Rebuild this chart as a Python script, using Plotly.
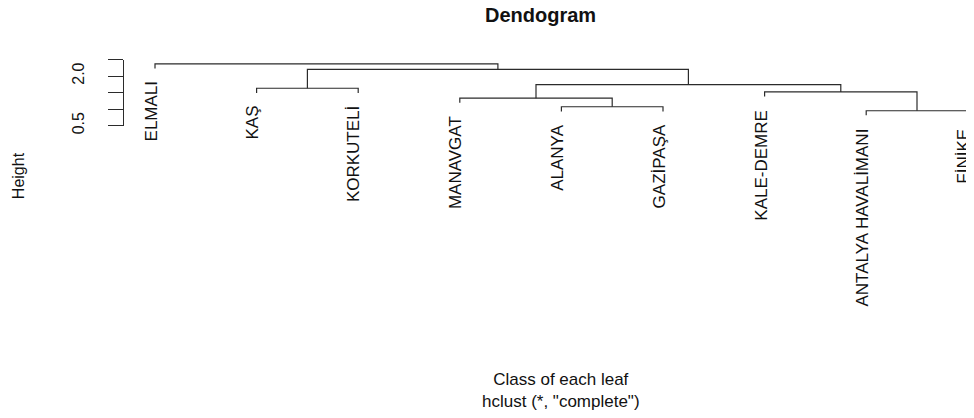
import plotly.graph_objects as go

# leaves in the order drawn by hclust
leaves = ["ELMALI", "KAŞ", "KORKUTELİ", "MANAVGAT", "ALANYA",
          "GAZİPAŞA", "KALE-DEMRE", "ANTALYA HAVALİMANI", "FİNİKE"]

# merges, R style: negative = leaf (1-based), positive = earlier merge
merge_left = [-8, -5, -4, -7, -2, 3, 5, -1]
merge_right = [-9, -6, 2, 1, -3, 4, 6, 7]
merge_height = [0.95, 1.07, 1.33, 1.52, 1.63, 1.74, 2.20, 2.37]

ytick_vals = [0.5, 1.0, 1.5, 2.0, 2.5]
ytick_text = ["0.5", "", "", "2.0", ""]

hang = 0.14
font = "Liberation Sans, Arial, sans-serif"
line_col = "#2b2b2b"

# page is 974x418, the plot div sits 8px in from the top-left corner
# (keep the height inside the window so no scrollbar eats the right edge)
OFF = 8
W, H = 974 - OFF, 418 - 2 * OFF


def px_x(p):
    return (p - OFF) / W


def px_y(p):
    return 1 - (p - OFF) / H


# x position of each leaf and merge, and leaf end heights
leaf_x = {i + 1: i + 1 for i in range(len(leaves))}
leaf_end = {}
node_x = {}


def child_pos(c, h):
    if c < 0:
        leaf_end[-c] = h - hang
        return leaf_x[-c], h - hang
    return node_x[c], merge_height[c - 1]


xs, ys = [], []
for k, (a, b, h) in enumerate(zip(merge_left, merge_right, merge_height), start=1):
    xa, ya = child_pos(a, h)
    xb, yb = child_pos(b, h)
    node_x[k] = (xa + xb) / 2
    xs += [xa, xa, xb, xb, None]
    ys += [ya, h, h, yb, None]

fig = go.Figure()
fig.add_trace(go.Scatter(x=xs, y=ys, mode="lines",
                         line=dict(color=line_col, width=1.2),
                         hoverinfo="skip", showlegend=False))

annotations = []
for i, name in enumerate(leaves, start=1):
    annotations.append(dict(
        x=leaf_x[i], y=leaf_end[i], xref="x", yref="y",
        text=name, textangle=-90, showarrow=False,
        xanchor="center", yanchor="top", yshift=-11, xshift=-4,
        font=dict(family=font, size=17, color="#111"),
    ))

annotations += [
    dict(x=px_x(540), y=px_y(15), xref="paper", yref="paper",
         text="<b>Dendogram</b>", showarrow=False,
         xanchor="center", yanchor="middle",
         font=dict(family=font, size=20, color="#111")),
    dict(x=px_x(18), y=px_y(180), xref="paper", yref="paper",
         text="Height", textangle=-90, showarrow=False,
         xanchor="center", yanchor="middle",
         font=dict(family=font, size=16, color="#111")),
    dict(x=px_x(561), y=px_y(399), xref="paper", yref="paper",
         text='Class of each leaf<br>hclust (*, "complete")',
         showarrow=False, xanchor="center", yanchor="middle",
         font=dict(family=font, size=17, color="#111")),
]

px_per_leaf = 101.6
x0_px = 155 - OFF
fig.update_layout(
    width=W, height=H,
    margin=dict(l=0, r=0, t=0, b=0),
    paper_bgcolor="white", plot_bgcolor="white",
    xaxis=dict(range=[1 - x0_px / px_per_leaf, 1 + (W - x0_px) / px_per_leaf],
               domain=[0, 1], visible=False, fixedrange=True),
    yaxis=dict(range=[0.5, 2.5],
               domain=[px_y(128.3), px_y(60.7)],
               anchor="free", position=px_x(123),
               showline=True, linecolor=line_col, linewidth=1,
               ticks="outside", ticklen=15, tickcolor=line_col, tickwidth=1,
               tickvals=ytick_vals, ticktext=ytick_text,
               tickangle=-90, ticklabelstandoff=18,
               tickfont=dict(family=font, size=16, color="#111"),
               showgrid=False, zeroline=False, fixedrange=True),
    annotations=annotations,
    showlegend=False,
)

fig.write_html("out.html")
